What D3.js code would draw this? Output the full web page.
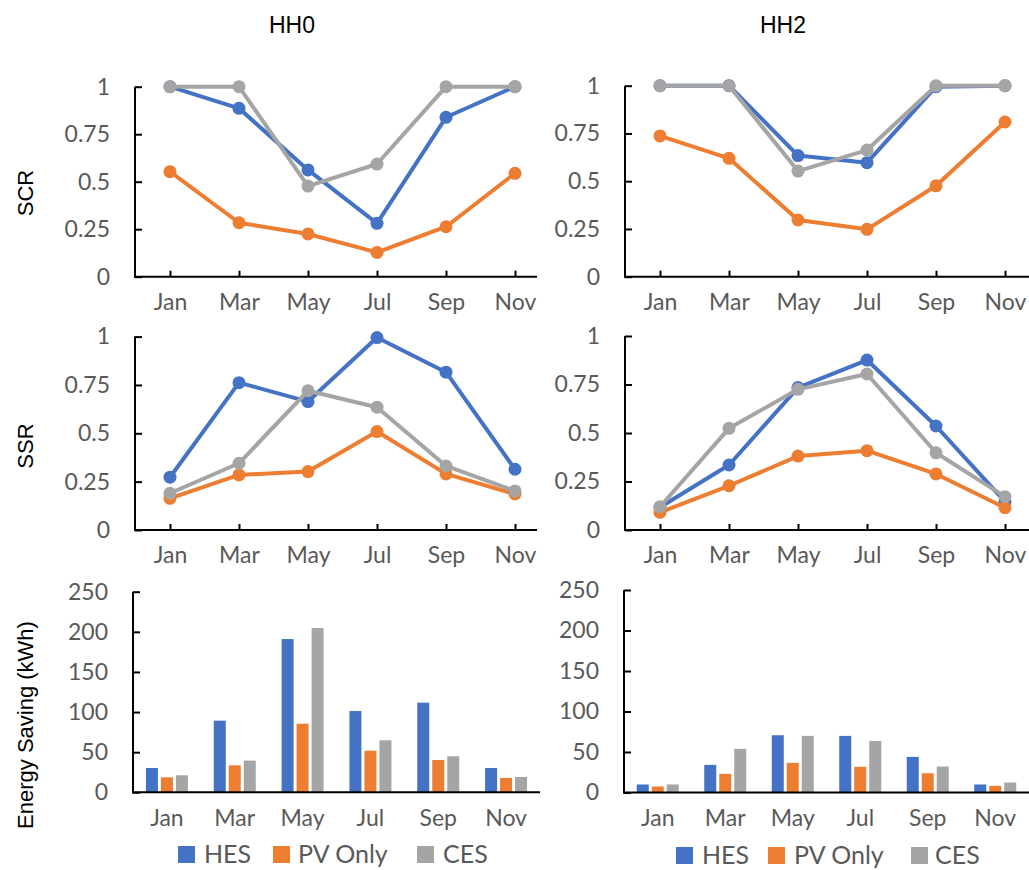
<!DOCTYPE html>
<html>
<head>
<meta charset="utf-8">
<script src="https://cdn.jsdelivr.net/npm/d3@7"></script>
<style>
html,body{margin:0;padding:0;background:#fff;}
svg{display:block;}
</style>
</head>
<body>
<svg id="chart" width="1029" height="870"></svg>
<script>
// ---- data ----
const months = ["Jan", "Mar", "May", "Jul", "Sep", "Nov"];
const seriesNames = ["HES", "PV Only", "CES"];
const seriesColors = ["#4472C4", "#ED7D31", "#A5A5A5"];
const panelTitles = ["HH0", "HH2"];
const rowTitles = ["SCR", "SSR", "Energy Saving (kWh)"];
const ratioTicks = [0, 0.25, 0.5, 0.75, 1];
const energyTicks = [0, 50, 100, 150, 200, 250];

const scrHH0_HES = [1.0, 0.886, 0.562, 0.281, 0.839, 1.0];
const scrHH0_PV  = [0.553, 0.284, 0.225, 0.128, 0.263, 0.544];
const scrHH0_CES = [1.0, 1.0, 0.477, 0.593, 1.0, 1.0];

const scrHH2_HES = [1.0, 1.0, 0.634, 0.597, 0.995, 1.0];
const scrHH2_PV  = [0.737, 0.62, 0.297, 0.248, 0.476, 0.81];
const scrHH2_CES = [1.0, 1.0, 0.553, 0.663, 1.0, 1.0];

const ssrHH0_HES = [0.273, 0.762, 0.664, 0.995, 0.816, 0.314];
const ssrHH0_PV  = [0.164, 0.285, 0.302, 0.509, 0.29, 0.186];
const ssrHH0_CES = [0.19, 0.345, 0.72, 0.635, 0.331, 0.202];

const ssrHH2_HES = [0.117, 0.335, 0.734, 0.876, 0.536, 0.146];
const ssrHH2_PV  = [0.091, 0.228, 0.381, 0.409, 0.289, 0.115];
const ssrHH2_CES = [0.12, 0.524, 0.725, 0.804, 0.398, 0.172];

const esHH0_HES = [30.3, 89.3, 191, 101.3, 111.7, 30.3];
const esHH0_PV  = [18.7, 33.6, 85.5, 51.9, 40.3, 17.9];
const esHH0_CES = [21.2, 39.5, 204.7, 64.8, 44.9, 19.1];

const esHH2_HES = [9.9, 34.1, 70.7, 69.9, 44.0, 9.9];
const esHH2_PV  = [7.4, 23.0, 36.6, 31.7, 23.8, 8.2];
const esHH2_CES = [9.9, 53.9, 69.9, 63.7, 32.1, 12.3];

// ---- layout ----
const svg = d3.select("#chart");
const tickFont = "Lato, 'Open Sans', sans-serif";
const titleFont = "'Liberation Sans', Arial, sans-serif";
const tickColor = "#595959";
const tickSize = 23;

function styleAxis(g) {
  g.selectAll(".domain").remove();
  g.selectAll(".tick line").attr("stroke", "#000").attr("stroke-width", 2);
  g.selectAll(".tick text").attr("fill", tickColor).style("font-family", tickFont).style("font-size", tickSize + "px");
}

function linePanel(ax, axEnd, y0, y1, data) {
  const x = d3.scalePoint().domain(months).range([ax + 35, ax + 35 + 345]);
  const y = d3.scaleLinear().domain([0, 1]).range([y0, y1]);
  const g = svg.append("g");
  g.append("g").attr("transform", `translate(${ax},0)`)
    .call(d3.axisLeft(y).tickValues(ratioTicks).tickSize(-7).tickPadding(25).tickFormat(d3.format("")))
    .call(styleAxis);
  g.append("g").attr("transform", `translate(0,${y0})`)
    .call(d3.axisBottom(x).tickSize(-6).tickPadding(17))
    .call(styleAxis);
  g.append("line").attr("x1", ax).attr("x2", ax).attr("y1", y0 + 1).attr("y2", y1)
    .attr("stroke", "#000").attr("stroke-width", 2);
  g.append("line").attr("x1", ax - 1).attr("x2", axEnd).attr("y1", y0).attr("y2", y0)
    .attr("stroke", "#000").attr("stroke-width", 2);
  const line = d3.line().x((d, i) => x(months[i])).y(d => y(d));
  data.forEach((vals, si) => {
    g.append("path").attr("d", line(vals)).attr("fill", "none")
      .attr("stroke", seriesColors[si]).attr("stroke-width", 4).attr("stroke-linejoin", "round");
    g.selectAll(null).data(vals).enter().append("circle")
      .attr("cx", (d, i) => x(months[i])).attr("cy", d => y(d)).attr("r", 6.5)
      .attr("fill", seriesColors[si]);
  });
}

function barPanel(ax, axEnd, y0, y250, data) {
  const x0 = d3.scaleBand().domain(months).range([ax, axEnd]);
  const x1 = d3.scaleBand().domain(seriesNames).range([0, 45]);
  const y = d3.scaleLinear().domain([0, 250]).range([y0, y250]);
  const g = svg.append("g");
  g.append("g").attr("transform", `translate(${ax},0)`)
    .call(d3.axisLeft(y).tickValues(energyTicks).tickSize(-7).tickPadding(25))
    .call(styleAxis);
  g.append("g").attr("transform", `translate(0,${y0})`)
    .call(d3.axisBottom(x0).tickSize(0).tickPadding(17))
    .call(styleAxis);
  data.forEach((vals, si) => {
    g.selectAll(null).data(vals).enter().append("rect")
      .attr("x", (d, i) => x0(months[i]) + (x0.bandwidth() - 45) / 2 + x1(seriesNames[si]) + 1.5)
      .attr("width", 12)
      .attr("y", d => y(d)).attr("height", d => y0 - y(d))
      .attr("fill", seriesColors[si]);
  });
  g.append("line").attr("x1", ax).attr("x2", ax).attr("y1", y0 + 1).attr("y2", y250)
    .attr("stroke", "#000").attr("stroke-width", 2);
  g.append("line").attr("x1", ax - 1).attr("x2", axEnd).attr("y1", y0).attr("y2", y0)
    .attr("stroke", "#000").attr("stroke-width", 2);
}

function legend(squareXs, textXs, top) {
  const g = svg.append("g");
  seriesNames.forEach((s, i) => {
    g.append("rect").attr("x", squareXs[i]).attr("y", top).attr("width", 17).attr("height", 17)
      .attr("fill", seriesColors[i]);
    g.append("text").attr("x", textXs[i]).attr("y", top + 17).text(s)
      .attr("fill", tickColor).style("font-family", tickFont).style("font-size", "25px");
  });
}

// titles
[[292, panelTitles[0]], [783, panelTitles[1]]].forEach(([cx, t]) => {
  svg.append("text").attr("x", cx).attr("y", 33).attr("text-anchor", "middle").text(t)
    .style("font-family", titleFont).style("font-size", "23px").attr("fill", "#000");
});
[[193, rowTitles[0]], [446, rowTitles[1]], [725, rowTitles[2]]].forEach(([cy, t]) => {
  svg.append("text").attr("transform", `translate(33,${cy}) rotate(-90)`).attr("text-anchor", "middle").text(t)
    .style("font-family", titleFont).style("font-size", "22px").attr("fill", "#000");
});

linePanel(135, 537, 276.7, 86.7, [scrHH0_HES, scrHH0_PV, scrHH0_CES]);
linePanel(625, 1029, 276.7, 85.7, [scrHH2_HES, scrHH2_PV, scrHH2_CES]);
linePanel(135, 537, 530, 336.6, [ssrHH0_HES, ssrHH0_PV, ssrHH0_CES]);
linePanel(625, 1029, 530, 336, [ssrHH2_HES, ssrHH2_PV, ssrHH2_CES]);
barPanel(133, 540, 792.3, 591.7, [esHH0_HES, esHH0_PV, esHH0_CES]);
barPanel(624, 1029, 792.5, 590, [esHH2_HES, esHH2_PV, esHH2_CES]);

legend([178, 273, 417], [204, 298, 443], 846);
legend([676, 768, 911], [702, 794, 935], 847);
</script>
</body>
</html>
